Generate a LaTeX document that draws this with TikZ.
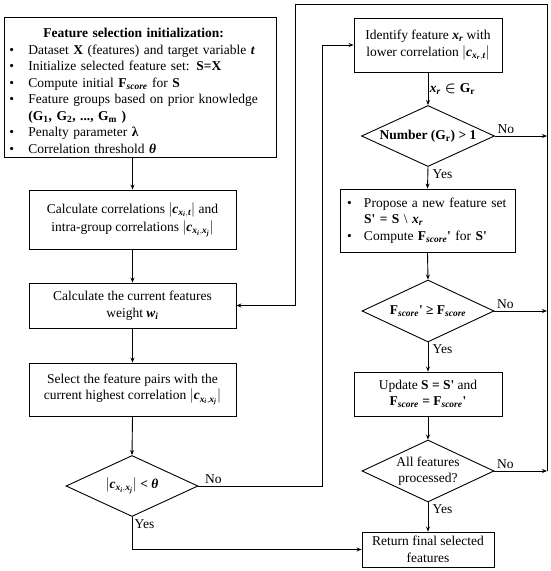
\documentclass[tikz,border=0pt]{standalone}
\usepackage{amsmath}
\usepackage{fontspec}
\setmainfont{Liberation Serif}
\usetikzlibrary{shapes.geometric,arrows.meta,calc}
\newcommand{\bi}[1]{\text{\bfseries\itshape #1}}
\newcommand{\bu}[1]{\text{\bfseries #1}}
\newcommand{\pq}{\textquotesingle}
\newcommand{\bul}{\makebox[19pt][l]{•}}
\begin{document}
\begin{tikzpicture}[x=1pt,y=-1pt,
  every node/.style={font=\fontsize{13.5}{16.5}\selectfont},
  box/.style={draw,line width=0.9pt,align=center,inner sep=2pt},
  diam/.style={draw,diamond,line width=0.9pt,inner sep=0pt},
  arr/.style={line width=0.9pt,-{Stealth[length=5pt,width=4pt]}},
  ln/.style={line width=0.9pt},
  lab/.style={inner sep=1.5pt}]
\useasboundingbox (0,0) rectangle (550,571);

% left column
\node[box,anchor=north west,minimum width=272pt,minimum height=140pt,text width=262pt,align=left,inner xsep=5pt,inner ysep=4pt] (init) at (4,17) {%
\rule{0pt}{16pt}\hspace*{34pt}\textbf{Feature selection initialization:}\\
\bul Dataset \textbf{X} (features) and target variable \bi{t}\\
\bul Initialize selected feature set: \textbf{S=X}\\
\bul Compute initial \textbf{F}\textsubscript{\bi{score}} for \textbf{S}\\
\bul\makebox[243pt][s]{Feature groups based on prior knowledge}\\
\hspace*{19pt}\textbf{(G\textsubscript{1}, G\textsubscript{2}, ..., G\textsubscript{m} )}\\
\bul Penalty parameter \textbf{λ}\\
\bul Correlation threshold \bi{θ}};

\node[box,minimum width=207pt,minimum height=59pt] (calc) at (132.5,219.5) {Calculate correlations $\lvert\bi{c}_{\bi{x}_{\bi{i}},\bi{t}}\rvert$ and\\[2pt]intra-group correlations $\lvert\bi{c}_{\bi{x}_{\bi{i}},\bi{x}_{\bi{j}}}\rvert$};
\node[box,minimum width=207pt,minimum height=45pt] (weight) at (132.5,305.5) {Calculate the current features\\weight \bi{w}\textsubscript{\bi{i}}};
\node[box,minimum width=207pt,minimum height=53pt] (select) at (132.5,389.5) {Select the feature pairs with the\\current highest correlation $\lvert\bi{c}_{\bi{x}_{\bi{i}},\bi{x}_{\bi{j}}}\rvert$};
\node[diam,minimum width=132pt,minimum height=61pt] (d1) at (132,486) {};
\node (d1t) at (d1) {$\lvert\bi{c}_{\bi{x}_{\bi{i}},\bi{x}_{\bi{j}}}\rvert$ \bi{< θ}};

% right column
\node[box,minimum width=148pt,minimum height=54pt] (ident) at (428,45) {Identify feature \bi{x}\textsubscript{\bi{r}} with\\lower correlation $\lvert\bi{c}_{\bi{x}_{\bi{r}},\bi{t}}\rvert$};
\node[diam,minimum width=133pt,minimum height=61pt] (num) at (428,136) {};
\node (numt) at (num) {\textbf{Number (G\textsubscript{r}) > 1}};
\node[box,minimum width=175pt,minimum height=63pt,text width=161pt,align=left,inner xsep=7pt] (prop) at (427.5,220.5) {%
\makebox[17pt][l]{•}Propose a new feature set\\
\hspace*{17pt}\textbf{S\pq{} = S} \textbackslash{} \bi{x}\textsubscript{\bi{r}}\\
\makebox[17pt][l]{•}Compute \textbf{F}\textsubscript{\bi{score}}\textbf{\pq} for \textbf{S\pq}};
\node[diam,minimum width=132pt,minimum height=62pt] (fd) at (428,311) {};
\node (fdt) at (fd) {\textbf{F}\textsubscript{\bi{score}}\textbf{\pq{} ≥ F}\textsubscript{\bi{score}}};
\node[box,minimum width=148pt,minimum height=44pt] (upd) at (428,394) {Update \textbf{S = S\pq} and\\\textbf{F}\textsubscript{\bi{score}} \textbf{= F}\textsubscript{\bi{score}}\textbf{\pq}};
\node[diam,minimum width=132pt,minimum height=62pt] (all) at (428,471) {};
\node[align=center] (allt) at (all) {All features\\processed?};
\node[box,minimum width=132pt,minimum height=35pt] (ret) at (428,549.5) {Return final selected\\features};

% coordinates
\coordinate (rtop) at (547,4);
\coordinate (ltop) at (295,4);
\coordinate (cL) at (322,486);

% left connectors
\draw[arr] (init.south -| calc.north) -- (calc.north);
\draw[arr] (calc.south) -- (weight.north);
\draw[arr] (weight.south) -- (select.north);
\draw[arr] (select.south) -- (d1.north);
\draw[arr] (d1.east) -- (cL) |- (ident.west);
\node[lab,anchor=south west] (no1) at ($(d1.east)+(5,-1)$) {No};
\draw[arr] (d1.south) |- (ret.west);
\node[lab,anchor=north west] (yes1) at ($(d1.south)+(1,1)$) {Yes};

% right connectors
\draw[arr] (ident.south) -- node[lab,right] (lxr) {$\bi{x}_{\bi{r}}\boldsymbol{\in}\bu{G}_{\bu{r}}$} (num.north);
\draw[arr] (num.east) -- (num.east -| rtop);
\node[lab,anchor=south west] (no2) at ($(num.east)+(1,-1)$) {No};
\draw[arr] (num.south) -- (prop.north);
\node[lab,anchor=north west] (yes2) at ($(num.south)+(3,1)$) {Yes};
\draw[arr] (prop.south) -- (fd.north);
\draw[arr] (fd.east) -- (fd.east -| rtop);
\node[lab,anchor=south west] (no3) at ($(fd.east)+(1,-1)$) {No};
\draw[arr] (fd.south) -- (upd.north);
\node[lab,anchor=north west] (yes3) at ($(fd.south)+(3,1)$) {Yes};
\draw[arr] (upd.south) -- (all.north);
\draw[arr] (all.east) -- (all.east -| rtop);
\node[lab,anchor=south west] (no4) at ($(all.east)+(1,-1)$) {No};
\draw[arr] (all.south) -- (ret.north);
\node[lab,anchor=north west] (yes4) at ($(all.south)+(3,1)$) {Yes};

% return loop
\draw[ln] (all.east -| rtop) -- (rtop) -- (ltop);
\draw[arr] (ltop) |- (weight.east);
\end{tikzpicture}
\end{document}
